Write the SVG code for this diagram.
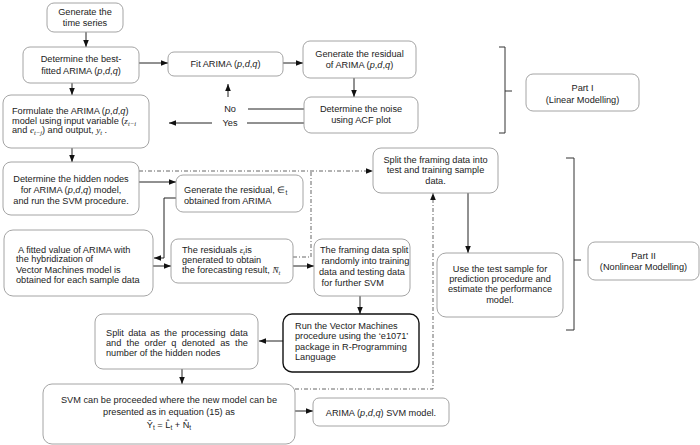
<svg xmlns="http://www.w3.org/2000/svg" width="700" height="445" viewBox="0 0 700 445">
<style>
.box{fill:#fff;stroke:#9a9a9a;stroke-width:0.9}
.bold{fill:#fff;stroke:#111;stroke-width:1.4}
.t{font-family:"Liberation Sans",Arial,Helvetica,sans-serif;font-size:9.2px;fill:#222}
.m{font-family:"Liberation Serif","Times New Roman",serif;font-style:italic}
.s{font-size:6.5px}
.c{stroke:#222;stroke-width:1;fill:none}
.dd{stroke:#555;stroke-width:0.9;fill:none;stroke-dasharray:4 2 1 2}
.br{stroke:#333;stroke-width:1;fill:none}
</style>
<defs>
<marker id="ah" viewBox="0 0 10 10" refX="10" refY="5" markerWidth="7" markerHeight="7" orient="auto" markerUnits="userSpaceOnUse">
<path d="M0,1 L10,5 L0,9 Z" fill="#111"/>
</marker>
</defs>

<g id="connectors">
<path class="c" d="M86,32 V47" marker-end="url(#ah)"/>
<path class="c" d="M139,63 H168" marker-end="url(#ah)"/>
<path class="c" d="M283,63 H303" marker-end="url(#ah)"/>
<path class="c" d="M354,78 V97" marker-end="url(#ah)"/>
<path class="c" d="M304,109 H248"/>
<path class="c" d="M228,97 V84" marker-end="url(#ah)"/>
<path class="c" d="M304,123 H247"/>
<path class="c" d="M212,123 H169" marker-end="url(#ah)"/>
<path class="c" d="M72,83 V95" marker-end="url(#ah)"/>
<path class="c" d="M72,148 V162" marker-end="url(#ah)"/>
<path class="c" d="M139,182 H176" marker-end="url(#ah)"/>
<path class="c" d="M176,198 H164 V258 H154" marker-end="url(#ah)"/>
<path class="c" d="M153,266 H171" marker-end="url(#ah)"/>
<path class="c" d="M293,266 H314" marker-end="url(#ah)"/>
<path class="c" d="M468,193 V253" marker-end="url(#ah)"/>
<path class="c" d="M360,296 V314" marker-end="url(#ah)"/>
<path class="c" d="M283,341 H259" marker-end="url(#ah)"/>
<path class="c" d="M182,369 V384" marker-end="url(#ah)"/>
<path class="c" d="M295,411 H313" marker-end="url(#ah)"/>
<path class="dd" d="M139,171 H373" marker-end="url(#ah)"/>
<path class="dd" d="M293,257 H311 V171"/>
<path class="dd" d="M295,389 H433 V193" marker-end="url(#ah)"/>
<text class="t" x="230" y="112" text-anchor="middle">No</text>
<text class="t" x="230" y="126" text-anchor="middle">Yes</text>
<path class="br" d="M499,47 H505 V133 H499 M505,91 H512"/>
<path class="br" d="M566,158 H574 V330 H566 M574,260 H581"/>
</g>

<g id="n-generate-ts">
<rect class="box" x="47" y="3" width="76" height="29" rx="7"/>
<text class="t" x="85" y="15" text-anchor="middle">Generate the</text>
<text class="t" x="85" y="26" text-anchor="middle">time series</text>
</g>

<g id="n-best-fitted">
<rect class="box" x="23" y="47" width="116" height="36" rx="7"/>
<text class="t" x="81" y="61.5" text-anchor="middle">Determine the best-</text>
<text class="t" x="81" y="74" text-anchor="middle">fitted ARIMA (<tspan font-style="italic">p</tspan>,<tspan font-style="italic">d</tspan>,<tspan font-style="italic">q</tspan>)</text>
</g>

<g id="n-fit-arima">
<rect class="box" x="168" y="52" width="115" height="24" rx="6"/>
<text class="t" x="225.5" y="67" text-anchor="middle">Fit ARIMA (<tspan font-style="italic">p</tspan>,<tspan font-style="italic">d</tspan>,<tspan font-style="italic">q</tspan>)</text>
</g>

<g id="n-gen-residual">
<rect class="box" x="303" y="41" width="113" height="37" rx="7"/>
<text class="t" x="359.5" y="57" text-anchor="middle">Generate the residual</text>
<text class="t" x="359.5" y="68" text-anchor="middle">of ARIMA (<tspan font-style="italic">p</tspan>,<tspan font-style="italic">d</tspan>,<tspan font-style="italic">q</tspan>)</text>
</g>

<g id="n-noise">
<rect class="box" x="304" y="97" width="114" height="36" rx="7"/>
<text class="t" x="361" y="112" text-anchor="middle">Determine the noise</text>
<text class="t" x="361" y="122.5" text-anchor="middle">using ACF plot</text>
</g>

<g id="n-part1">
<rect class="box" x="526" y="74" width="113" height="37" rx="7"/>
<text class="t" x="582.5" y="91" text-anchor="middle">Part I</text>
<text class="t" x="582.5" y="103" text-anchor="middle">(Linear Modelling)</text>
</g>

<g id="n-formulate">
<rect class="box" x="3" y="95" width="146" height="53" rx="8"/>
<text class="t" x="12" y="114">Formulate the ARIMA (<tspan font-style="italic">p</tspan>,<tspan font-style="italic">d</tspan>,<tspan font-style="italic">q</tspan>)</text>
<text class="t" x="12" y="123.5">model using input variable (<tspan class="m">z</tspan><tspan class="m s" dy="2">t−i</tspan></text>
<text class="t" x="12" y="133">and <tspan class="m">e</tspan><tspan class="m s" dy="2">t−j</tspan><tspan dy="-2">) and output, </tspan><tspan class="m">y</tspan><tspan class="m s" dy="2">t</tspan><tspan dy="-2"> .</tspan></text>
</g>

<g id="n-hidden-nodes">
<rect class="box" x="3" y="162" width="136" height="53" rx="8"/>
<text class="t" x="71" y="181.5" text-anchor="middle">Determine the hidden nodes</text>
<text class="t" x="71" y="192.5" text-anchor="middle">for ARIMA (<tspan font-style="italic">p</tspan>,<tspan font-style="italic">d</tspan>,<tspan font-style="italic">q</tspan>) model,</text>
<text class="t" x="71" y="203.5" text-anchor="middle">and run the SVM procedure.</text>
</g>

<g id="n-residual-eps">
<rect class="box" x="176" y="175" width="127" height="37" rx="7"/>
<text class="t" x="184" y="192.5">Generate the residual, ∈<tspan class="s" dy="2">t</tspan></text>
<text class="t" x="184" y="203.5">obtained from ARIMA</text>
</g>

<g id="n-fitted-value">
<rect class="box" x="4" y="230" width="149" height="66" rx="9"/>
<text class="t" x="18" y="252.5">A fitted value of ARIMA with</text>
<text class="t" x="16" y="262">the hybridization of</text>
<text class="t" x="16" y="272.5">Vector Machines model is</text>
<text class="t" x="16" y="282.5">obtained for each sample data</text>
</g>

<g id="n-residuals">
<rect class="box" x="171" y="239" width="122" height="44" rx="7"/>
<text class="t" x="182" y="253">The residuals <tspan class="m">ε</tspan><tspan class="m s" dy="2">t</tspan><tspan dy="-2">is</tspan></text>
<text class="t" x="182" y="263">generated to obtain</text>
<text class="t" x="182" y="273">the forecasting result, <tspan class="m">N&#772;</tspan><tspan class="m s" dy="2">t</tspan></text>
</g>

<g id="n-framing-split">
<rect class="box" x="314" y="239" width="96" height="57" rx="8"/>
<text class="t" x="320" y="253">The framing data split</text>
<text class="t" x="321.5" y="264">randomly into training</text>
<text class="t" x="319" y="275">data and testing data</text>
<text class="t" x="321.5" y="285.5">for further SVM</text>
</g>

<g id="n-split-framing">
<rect class="box" x="373" y="148" width="125" height="45" rx="8"/>
<text class="t" x="435.5" y="162.5" text-anchor="middle">Split the framing data into</text>
<text class="t" x="435.5" y="173" text-anchor="middle">test and training sample</text>
<text class="t" x="435.5" y="184" text-anchor="middle">data.</text>
</g>

<g id="n-test-sample">
<rect class="box" x="437" y="253" width="126" height="64" rx="9"/>
<text class="t" x="500" y="271.5" text-anchor="middle">Use the test sample for</text>
<text class="t" x="500" y="281.5" text-anchor="middle">prediction procedure and</text>
<text class="t" x="500" y="291.5" text-anchor="middle">estimate the performance</text>
<text class="t" x="500" y="302.5" text-anchor="middle">model.</text>
</g>

<g id="n-part2">
<rect class="box" x="588" y="242" width="111" height="38" rx="7"/>
<text class="t" x="643.5" y="259" text-anchor="middle">Part II</text>
<text class="t" x="643.5" y="269.5" text-anchor="middle">(Nonlinear Modelling)</text>
</g>

<g id="n-split-data">
<rect class="box" x="95" y="314" width="163" height="55" rx="8"/>
<text class="t" x="106" y="336" word-spacing="1.7">Split data as the processing data</text>
<text class="t" x="106" y="346" word-spacing="2.7">and the order q denoted as the</text>
<text class="t" x="106" y="356">number of the hidden nodes</text>
</g>

<g id="n-run-svm">
<rect class="bold" x="283" y="314" width="136" height="58" rx="9"/>
<text class="t" x="295" y="328.5">Run the Vector Machines</text>
<text class="t" x="295" y="339">procedure using the ‘e1071’</text>
<text class="t" x="295" y="349.5">package in R-Programming</text>
<text class="t" x="295" y="360">Language</text>
</g>

<g id="n-svm-proceed">
<rect class="box" x="43" y="384" width="252" height="60" rx="9"/>
<text class="t" x="169" y="403" text-anchor="middle">SVM can be proceeded where the new model can be</text>
<text class="t" x="169" y="415" text-anchor="middle">presented as in equation (15) as</text>
<text class="t" x="169" y="428" text-anchor="middle" font-family="'Liberation Serif','Times New Roman',serif">Ŷ<tspan class="s" dy="2">t</tspan><tspan dy="-2"> = L&#770;</tspan><tspan class="s" dy="2">t</tspan><tspan dy="-2">  + N&#770;</tspan><tspan class="s" dy="2">t</tspan></text>
</g>

<g id="n-arima-svm">
<rect class="box" x="313" y="398" width="136" height="28" rx="6"/>
<text class="t" x="381" y="415.5" text-anchor="middle">ARIMA (<tspan font-style="italic">p</tspan>,<tspan font-style="italic">d</tspan>,<tspan font-style="italic">q</tspan>) SVM model.</text>
</g>
</svg>
